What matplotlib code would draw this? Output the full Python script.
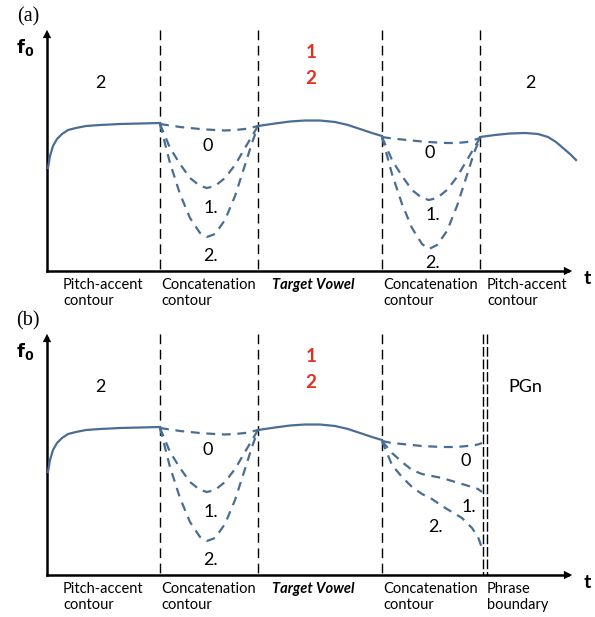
import numpy as np
import matplotlib.pyplot as plt

# schematic drawn in pixel space of the original figure (y grows downward)
PANEL_OFFSET = [0, 304]
PANEL_TAGS = ['(a)', '(b)']

BOUNDARIES = [160, 258, 382, 480]

# main f0 contour (panel a coordinates)
main_seg1_x = [48, 50, 53, 57, 62, 68, 76, 86, 100, 120, 140, 160]
main_seg1_y = [168, 156, 146, 139, 134, 130, 128, 126, 125, 124, 123.5, 123]
main_seg2_x = [258, 275, 290, 305, 320, 335, 348, 360, 372, 382]
main_seg2_y = [126, 123.5, 121.5, 120.5, 120.5, 122, 125, 129, 133, 136]
main_seg3_x = [480, 495, 510, 525, 538, 548, 556, 563, 570, 576]
main_seg3_y = [137, 135, 133.5, 133, 134, 137, 142, 148, 154, 160]

# concatenation dips, panel (a) first region
c1_x = [160, 170, 180, 190, 200, 207, 215, 225, 235, 245, 252, 258]
c1_dip0 = [124, 125.5, 127, 128, 129, 129.5, 130, 130.5, 130, 129, 127.5, 126]
c1_dip1 = [124, 148, 164, 178, 186, 188, 186, 178, 165, 148, 136, 126]
c1_dip2 = [124, 163, 194, 218, 233, 237, 234, 220, 196, 165, 143, 126]

# panel (a) second region
c2_x = [382, 392, 402, 412, 422, 429, 437, 447, 457, 467, 474, 480]
c2_dip0 = [137, 138.5, 139.5, 140.5, 141.5, 142, 142.5, 143, 143, 142, 140, 138]
c2_dip1 = [137, 160, 176, 190, 198, 200, 198, 190, 177, 160, 148, 138]
c2_dip2 = [137, 174, 204, 228, 244, 249, 245, 231, 206, 175, 153, 138]

# panel (b) second region, ending at the phrase boundary
b2_x = [382, 392, 402, 412, 422, 432, 442, 452, 462, 472, 478, 482]
b2_dip0 = [137, 139, 140, 141, 142, 142.5, 143, 143, 142.5, 141.5, 140.5, 139]
b2_dip1 = [137, 149, 158, 166, 170, 172, 174, 177, 180, 183, 185, 188]
b2_dip2 = [137, 161, 173, 183, 190, 195, 202, 208, 214, 224, 233, 244]

BLUE = '#4a6d94'
RED = '#e0301e'
LBL_FONT = ['Lato', 'DejaVu Sans']

fig = plt.figure(figsize=(5.95, 6.17), dpi=100)
ax = fig.add_axes([0, 0, 1, 1])
ax.set_xlim(0, 595)
ax.set_ylim(617, 0)
ax.axis('off')

for p, off in enumerate(PANEL_OFFSET):
    oy = lambda ys: [y + off for y in ys]

    # axes with arrows
    ax.plot([47, 47], [271 + off, 34 + off], color='black', lw=1.8)
    ax.plot([47, 568], [271 + off, 271 + off], color='black', lw=1.8)
    ax.annotate('', xy=(47, 27 + off), xytext=(47, 36 + off),
                arrowprops=dict(arrowstyle='-|>,head_width=0.3,head_length=0.6',
                                color='black', lw=0))
    ax.annotate('', xy=(575, 271 + off), xytext=(566, 271 + off),
                arrowprops=dict(arrowstyle='-|>,head_width=0.3,head_length=0.6',
                                color='black', lw=0))
    ax.text(25, 47 + off, r'$\mathbf{f_0}$', fontsize=13, ha='center', va='center')
    ax.text(587, 279 + off, 't', fontsize=14, fontweight='bold', ha='center',
            va='center', family=LBL_FONT)
    ax.text(28, 17 + off, PANEL_TAGS[p], fontsize=14.5, ha='center', va='center',
            family='Liberation Serif')

    # region boundaries
    bounds = BOUNDARIES if p == 0 else BOUNDARIES[:3]
    for bx in bounds:
        ax.plot([bx, bx], [30 + off, 271 + off], color='black', lw=1.0,
                dashes=(7, 4))
    if p == 1:
        for bx in [483, 486.5]:
            ax.plot([bx, bx], [30 + off, 271 + off], color='black', lw=1.0,
                    dashes=(7, 2))

    # main contour
    ax.plot(main_seg1_x, oy(main_seg1_y), color=BLUE, lw=1.6)
    ax.plot(main_seg2_x, oy(main_seg2_y), color=BLUE, lw=1.6)
    if p == 0:
        ax.plot(main_seg3_x, oy(main_seg3_y), color=BLUE, lw=1.6)

    # dashed variants
    for ys in [c1_dip0, c1_dip1, c1_dip2]:
        ax.plot(c1_x, oy(ys), color=BLUE, lw=1.6, dashes=(4, 3))
    second = [c2_dip0, c2_dip1, c2_dip2] if p == 0 else [b2_dip0, b2_dip1, b2_dip2]
    sx = c2_x if p == 0 else b2_x
    for ys in second:
        ax.plot(sx, oy(ys), color=BLUE, lw=1.6, dashes=(4, 3))

    # curve labels
    for tx, ty, s in [(208, 146, '0'), (211, 208, '1.'), (211, 256, '2.')]:
        ax.text(tx, ty + off, s, fontsize=13, ha='center', va='center', family=LBL_FONT)
    if p == 0:
        lab2 = [(430, 153, '0'), (433, 215, '1.'), (433, 263, '2.')]
    else:
        lab2 = [(466, 157, '0'), (469, 203, '1.'), (436, 223, '2.')]
    for tx, ty, s in lab2:
        ax.text(tx, ty + off, s, fontsize=13, ha='center', va='center', family=LBL_FONT)

    # tone labels
    ax.text(100, 83 + off, '2', fontsize=13, ha='center', va='center', family=LBL_FONT)
    if p == 0:
        ax.text(530, 83 + off, '2', fontsize=13, ha='center', va='center', family=LBL_FONT)
    else:
        ax.text(525, 83 + off, 'PGn', fontsize=13, ha='center', va='center', family=LBL_FONT)
    ax.text(311, 53 + off, '1', fontsize=13.5, fontweight='bold', color=RED,
            ha='center', va='center', family=LBL_FONT)
    ax.text(311, 78 + off, '2', fontsize=13.5, fontweight='bold', color=RED,
            ha='center', va='center', family=LBL_FONT)

    # region names
    last = 'Pitch-accent\ncontour' if p == 0 else 'Phrase\nboundary'
    names = [(63, 'Pitch-accent\ncontour'), (161, 'Concatenation\ncontour'),
             (383, 'Concatenation\ncontour'), (487, last)]
    for nx, s in names:
        ax.text(nx, 278 + off, s, fontsize=10.5, ha='left', va='top',
                family=LBL_FONT, linespacing=1.15)
    ax.text(272, 278 + off, 'Target Vowel', fontsize=10.5, ha='left', va='top',
            family=LBL_FONT, fontweight='bold', style='italic')

fig.savefig('out.png', dpi=100)
